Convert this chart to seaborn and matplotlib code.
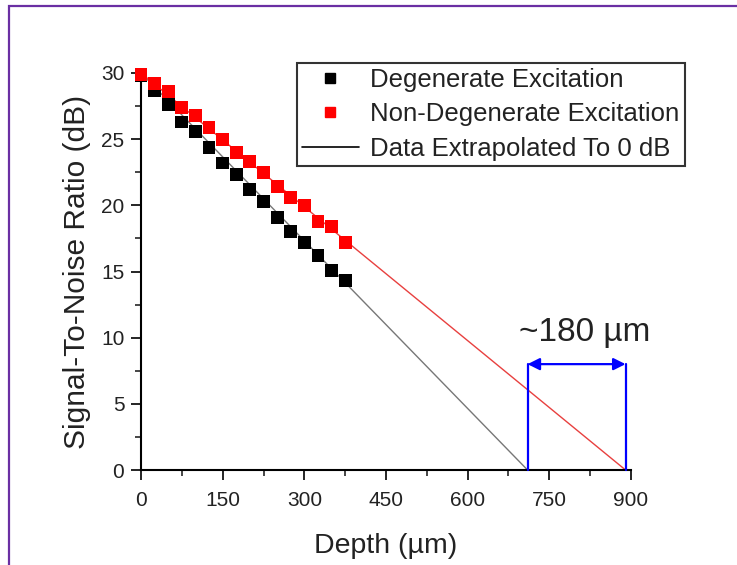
import matplotlib
matplotlib.use("Agg")
import matplotlib.pyplot as plt
from matplotlib.patches import Rectangle
from matplotlib.lines import Line2D
import seaborn as sns
import pandas as pd

# ---- data ----
depth = [0, 25, 50, 75, 100, 125, 150, 175, 200, 225, 250, 275, 300, 325, 350, 375]
deg_snr = [29.8, 28.7, 27.6, 26.3, 25.6, 24.4, 23.2, 22.3, 21.2, 20.3, 19.1, 18.0, 17.2, 16.2, 15.1, 14.3]
nondeg_snr = [29.9, 29.2, 28.6, 27.4, 26.8, 25.9, 25.0, 24.0, 23.3, 22.5, 21.4, 20.6, 20.0, 18.8, 18.4, 17.2]
deg_fit_x = [0, 710]
deg_fit_y = [30, 0]
nondeg_fit_x = [0, 890]
nondeg_fit_y = [30, 0]
range_x = [710, 890]
range_top = 8
range_label = "~180 \u00b5m"
x_ticks = [0, 150, 300, 450, 600, 750, 900]
y_ticks = [0, 5, 10, 15, 20, 25, 30]
legend_labels = ["Degenerate Excitation", "Non-Degenerate Excitation", "Data Extrapolated To 0 dB"]

sns.set_style("ticks")
plt.rcParams["font.family"] = ["Liberation Sans", "DejaVu Sans"]

fig = plt.figure(figsize=(7.37, 5.65), dpi=100)
ax = fig.add_axes([141 / 737, 1 - 470 / 565, 490 / 737, 397 / 565])

deg_df = pd.DataFrame({"x": depth, "y": deg_snr})
nondeg_df = pd.DataFrame({"x": depth, "y": nondeg_snr})
dfit = pd.DataFrame({"x": deg_fit_x, "y": deg_fit_y})
nfit = pd.DataFrame({"x": nondeg_fit_x, "y": nondeg_fit_y})

sns.lineplot(data=dfit, x="x", y="y", ax=ax, color="#777777", lw=1.0, zorder=2, legend=False)
sns.lineplot(data=nfit, x="x", y="y", ax=ax, color="#e8403f", lw=1.0, zorder=2, legend=False)
sns.scatterplot(data=deg_df, x="x", y="y", ax=ax, marker="s", s=85, color="black",
                edgecolor="none", zorder=4, clip_on=False, legend=False)
sns.scatterplot(data=nondeg_df, x="x", y="y", ax=ax, marker="s", s=85, color="#ff0000",
                edgecolor="none", zorder=5, clip_on=False, legend=False)

# bracket
blue = "#0000ff"
for xv in range_x:
    ax.plot([xv, xv], [0, range_top], color=blue, lw=1.6, zorder=6, clip_on=False)
ax.annotate("", xy=(range_x[0], range_top), xytext=(range_x[1], range_top),
            arrowprops=dict(arrowstyle="<|-|>", color=blue, lw=1.6,
                            mutation_scale=18, shrinkA=0, shrinkB=0), zorder=6)
ax.text((range_x[0] + range_x[1]) / 2 + 15, range_top + 2.4, range_label,
        ha="center", va="center", fontsize=24, color="#222222")

ax.set_xlim(0, 900)
ax.set_ylim(0, 30)
ax.set_xticks(x_ticks)
ax.set_yticks(y_ticks)
ax.set_xticks([75, 225, 375, 525, 675, 825], minor=True)
ax.set_yticks([2.5, 7.5, 12.5, 17.5, 22.5, 27.5], minor=True)
ax.tick_params(axis="both", which="major", length=7, width=1.2, labelsize=15,
               direction="out", colors="black", labelcolor="#222222")
ax.tick_params(axis="x", which="major", pad=8)
ax.tick_params(axis="y", which="major", pad=5)
ax.tick_params(axis="both", which="minor", length=4, width=1.2, direction="out")
ax.set_xlabel("Depth (\u00b5m)", fontsize=20.5, color="#222222", labelpad=17)
ax.set_ylabel("Signal-To-Noise Ratio (dB)", fontsize=21.5, color="#222222", labelpad=7)
for side in ["top", "right"]:
    ax.spines[side].set_visible(False)
for side in ["left", "bottom"]:
    ax.spines[side].set_linewidth(1.5)
    ax.spines[side].set_color("black")
ax.grid(False)

handles = [
    Line2D([], [], marker="s", ls="none", color="black", markersize=7.5),
    Line2D([], [], marker="s", ls="none", color="#ff0000", markersize=7.5),
    Line2D([], [], color="black", lw=1.2),
]
leg = fig.legend(handles, legend_labels, loc="upper left",
                 bbox_to_anchor=(297 / 737, 1 - 63 / 565), fontsize=18.5,
                 frameon=True, fancybox=False, shadow=False, borderpad=0.2,
                 handlelength=2.2, handletextpad=0.45, labelspacing=0.4,
                 borderaxespad=0)
leg.get_frame().set_edgecolor("black")
leg.get_frame().set_linewidth(1.5)
for t in leg.get_texts():
    t.set_color("#222222")

# purple outer frame
fig.patches.append(Rectangle((9 / 737, -0.1), 1.2, 1.1 - 6 / 565, transform=fig.transFigure,
                             fill=False, edgecolor="#6a2fa3", lw=1.6, zorder=0))

fig.savefig("out.png", dpi=100)
